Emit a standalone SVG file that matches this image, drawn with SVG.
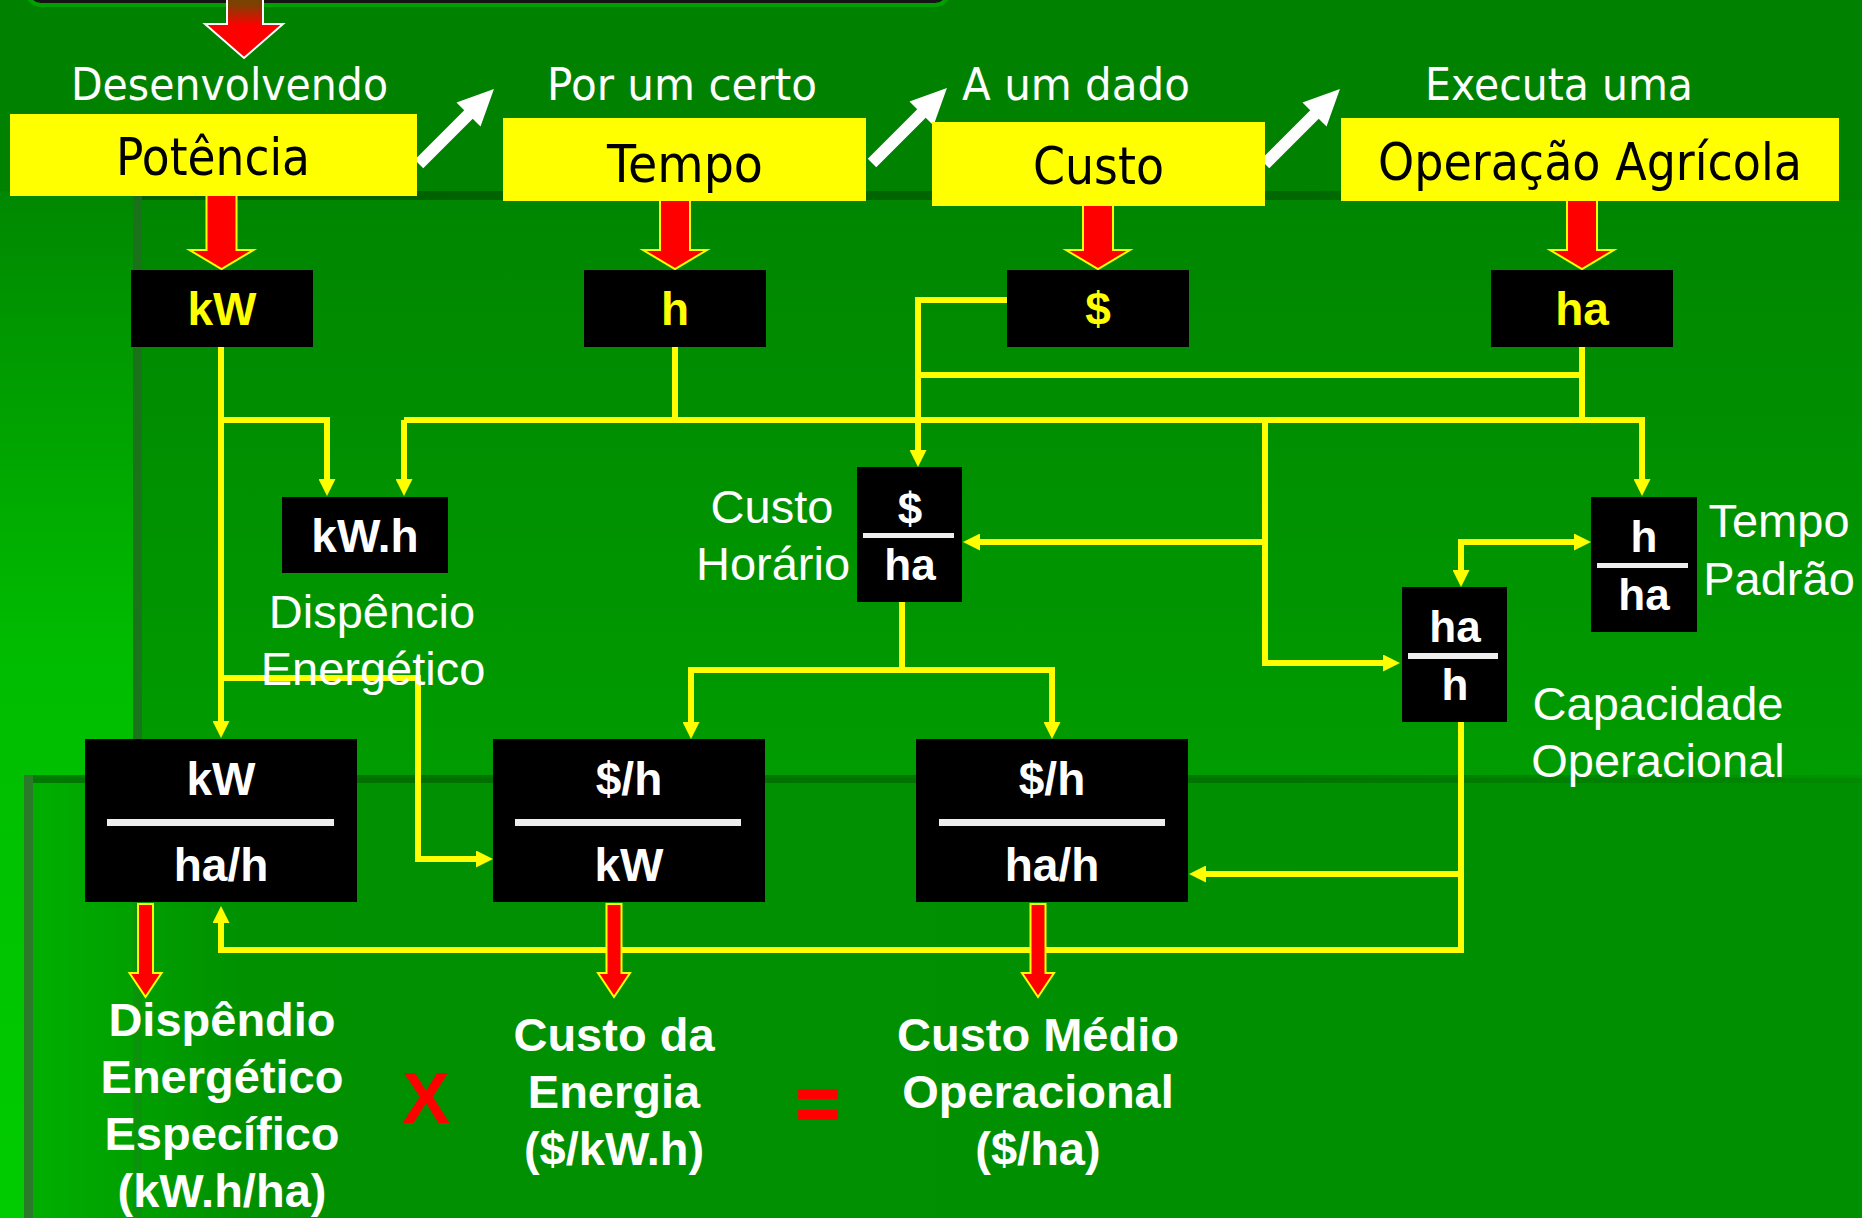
<svg xmlns="http://www.w3.org/2000/svg" width="1862" height="1218" viewBox="0 0 1862 1218">
<defs>
  <linearGradient id="gLeft" x1="0" y1="191" x2="0" y2="1218" gradientUnits="userSpaceOnUse">
    <stop offset="0" stop-color="#008800"/>
    <stop offset="0.45" stop-color="#00bc00"/>
    <stop offset="1" stop-color="#00cc00"/>
  </linearGradient>
  <linearGradient id="gPanelA" x1="0" y1="191" x2="0" y2="780" gradientUnits="userSpaceOnUse">
    <stop offset="0" stop-color="#008600"/>
    <stop offset="1" stop-color="#009c00"/>
  </linearGradient>
  <linearGradient id="gPanelB" x1="24" y1="0" x2="1862" y2="0" gradientUnits="userSpaceOnUse">
    <stop offset="0" stop-color="#00b000"/>
    <stop offset="0.06" stop-color="#00a000"/>
    <stop offset="0.12" stop-color="#009000"/>
    <stop offset="1" stop-color="#008f00"/>
  </linearGradient>
  <linearGradient id="gEdgeTop" x1="0" y1="0" x2="1862" y2="0" gradientUnits="userSpaceOnUse">
    <stop offset="0" stop-color="#005a00" stop-opacity="0.9"/>
    <stop offset="0.7" stop-color="#006000" stop-opacity="0.8"/>
    <stop offset="1" stop-color="#006000" stop-opacity="0.15"/>
  </linearGradient>
  <linearGradient id="gTopArrow" x1="0" y1="4" x2="0" y2="26" gradientUnits="userSpaceOnUse">
    <stop offset="0" stop-color="#7a4200"/>
    <stop offset="1" stop-color="#ff0000"/>
  </linearGradient>
  <marker id="ah" viewBox="0 0 17 17" refX="7" refY="8.5" markerWidth="17" markerHeight="17" markerUnits="userSpaceOnUse" orient="auto-start-reverse">
    <path d="M0,0 L17,8.5 L0,17 Z" fill="#ffff00"/>
  </marker>
  <path id="redBig" d="M-15,-82 H15 V-19 H32 L0,0 L-32,-19 H-15 Z"/>
  <path id="redSmall" d="M-7.5,-93 H7.5 V-24 H16 L0,0 L-16,-24 H-7.5 Z"/>
  <path id="whiteArrow" d="M0,-6 H70 V-17 L106,0 L70,17 V6 H0 Z"/>
</defs>
<style>
  .ybox { fill: #ffff00; }
  .bbox { fill: #000000; }
  .frac { fill: #eeeeee; }
  .tah { font-family: "DejaVu Sans", Verdana, sans-serif; }
  .lbl { font-family: "Liberation Sans", Arial, sans-serif; font-size: 47px; fill: #ffffff; text-anchor: middle; }
  .top { fill: #ffffff; font-size: 45px; }
  .ytxt { fill: #000000; font-size: 51px; }
  .unitY { font-family: "Liberation Sans", Arial, sans-serif; font-weight: bold; font-size: 46px; fill: #ffff00; text-anchor: middle; }
  .unitW { font-family: "Liberation Sans", Arial, sans-serif; font-weight: bold; font-size: 46px; fill: #ffffff; text-anchor: middle; }
  .res { font-family: "Liberation Sans", Arial, sans-serif; font-weight: bold; font-size: 47px; fill: #ffffff; text-anchor: middle; }
  .op { font-family: "Liberation Sans", Arial, sans-serif; font-weight: bold; fill: #ff0000; text-anchor: middle; }
  .conn path { fill: none; stroke: #ffff00; stroke-width: 6; stroke-linejoin: miter; }
  .arr { marker-end: url(#ah); }
  .red { fill: #ff0000; stroke: #ffff00; stroke-width: 2; }
  .white { fill: #ffffff; }
</style>

<!-- background -->
<g id="background">
  <rect x="0" y="0" width="1862" height="1218" fill="#008200"/>
  <rect x="0" y="191" width="142" height="1027" fill="url(#gLeft)"/>
  <rect x="133" y="191" width="1729" height="590" fill="url(#gPanelA)"/>
  <rect x="133" y="191" width="1729" height="9" fill="url(#gEdgeTop)"/>
  <rect x="133" y="191" width="9" height="1027" fill="#1f6e1f" opacity="0.85"/>
  <rect x="24" y="778" width="1838" height="440" fill="url(#gPanelB)"/>
  <rect x="24" y="775" width="1838" height="8" fill="url(#gEdgeTop)" opacity="0.7"/>
  <rect x="24" y="775" width="9" height="443" fill="#2a7a2a"/>
  <rect x="133" y="783" width="9" height="435" fill="#1f7a1f" opacity="0.35"/>
  <rect x="27" y="-30" width="922" height="35" rx="14" fill="#141414" stroke="#00a000" stroke-width="4"/>
</g>

<!-- top incoming arrow -->
<path id="arrow-top" d="M227,-4 H263 V24 H283 L244,58 L205,24 H227 Z" fill="url(#gTopArrow)" stroke="#ffffff" stroke-width="2"/>

<!-- red arrows from yellow boxes -->
<g id="red-arrows-top" class="red">
  <use href="#redBig" x="221.5" y="269"/>
  <use href="#redBig" x="675" y="269"/>
  <use href="#redBig" x="1098" y="269"/>
  <use href="#redBig" x="1582" y="269"/>
</g>

<!-- white diagonal arrows -->
<g id="white-arrows" class="white">
  <use href="#whiteArrow" transform="translate(419,164) rotate(-45)"/>
  <use href="#whiteArrow" transform="translate(872,163) rotate(-45)"/>
  <use href="#whiteArrow" transform="translate(1265,164) rotate(-45)"/>
</g>

<!-- top labels -->
<g id="top-labels" class="tah top">
  <text x="71" y="100" textLength="317" lengthAdjust="spacingAndGlyphs">Desenvolvendo</text>
  <text x="547" y="100" textLength="270" lengthAdjust="spacingAndGlyphs">Por um certo</text>
  <text x="962" y="100" textLength="228" lengthAdjust="spacingAndGlyphs">A um dado</text>
  <text x="1425" y="100" textLength="268" lengthAdjust="spacingAndGlyphs">Executa uma</text>
</g>

<!-- yellow boxes -->
<g id="node-potencia">
  <rect class="ybox" x="10" y="114" width="407" height="82"/>
  <text class="tah ytxt" x="116" y="175" textLength="194" lengthAdjust="spacingAndGlyphs">Potência</text>
</g>
<g id="node-tempo">
  <rect class="ybox" x="503" y="118" width="363" height="83"/>
  <text class="tah ytxt" x="607" y="182" textLength="156" lengthAdjust="spacingAndGlyphs">Tempo</text>
</g>
<g id="node-custo">
  <rect class="ybox" x="932" y="122" width="333" height="84"/>
  <text class="tah ytxt" x="1033" y="184" textLength="131" lengthAdjust="spacingAndGlyphs">Custo</text>
</g>
<g id="node-operacao">
  <rect class="ybox" x="1341" y="118" width="498" height="83"/>
  <text class="tah ytxt" x="1378" y="180" textLength="424" lengthAdjust="spacingAndGlyphs">Operação Agrícola</text>
</g>

<!-- connectors -->
<g id="connectors" class="conn">
  <path class="arr" d="M221,347 V728"/>
  <path class="arr" d="M221,420 H327 V486"/>
  <path d="M675,347 V420"/>
  <path class="arr" d="M404,420 V486"/>
  <path class="arr" d="M404,420 H1642 V486"/>
  <path class="arr" d="M1007,300 H918 V457"/>
  <path d="M918,375 H1582"/>
  <path d="M1582,347 V420"/>
  <path class="arr" d="M1265,420 V663 H1390"/>
  <path class="arr" d="M1265,542 H973"/>
  <path class="arr" d="M1461,577 V542 H1581" marker-start="url(#ah)"/>
  <path d="M902,602 V670"/>
  <path class="arr" d="M691,729 V670 H1052 V729" marker-start="url(#ah)"/>
  <path class="arr" d="M221,678 H418 V859 H483"/>
  <path class="arr" d="M1461,722 V950 H221 V916"/>
  <path class="arr" d="M1461,874 H1199"/>
</g>

<!-- black unit boxes, top row -->
<g id="node-kw">
  <rect class="bbox" x="131" y="270" width="182" height="77"/>
  <text class="unitY" x="222" y="325">kW</text>
</g>
<g id="node-h">
  <rect class="bbox" x="584" y="270" width="182" height="77"/>
  <text class="unitY" x="675" y="325">h</text>
</g>
<g id="node-dollar">
  <rect class="bbox" x="1007" y="270" width="182" height="77"/>
  <text class="unitY" x="1098" y="325">$</text>
</g>
<g id="node-ha">
  <rect class="bbox" x="1491" y="270" width="182" height="77"/>
  <text class="unitY" x="1582" y="325">ha</text>
</g>

<!-- middle row -->
<g id="node-kwh">
  <rect class="bbox" x="282" y="497" width="166" height="76"/>
  <text class="unitW" x="365" y="552">kW.h</text>
</g>
<g id="node-custo-horario">
  <rect class="bbox" x="857" y="467" width="105" height="135"/>
  <rect class="frac" x="863" y="533" width="91" height="5"/>
  <text class="unitW" x="910" y="524" style="font-size:44px">$</text>
  <text class="unitW" x="910" y="580" style="font-size:44px">ha</text>
</g>
<g id="node-tempo-padrao">
  <rect class="bbox" x="1591" y="497" width="106" height="135"/>
  <rect class="frac" x="1597" y="563" width="91" height="5"/>
  <text class="unitW" x="1644" y="552" style="font-size:44px">h</text>
  <text class="unitW" x="1644" y="610" style="font-size:44px">ha</text>
</g>
<g id="node-capacidade">
  <rect class="bbox" x="1402" y="587" width="105" height="135"/>
  <rect class="frac" x="1408" y="653" width="90" height="6"/>
  <text class="unitW" x="1455" y="642" style="font-size:44px">ha</text>
  <text class="unitW" x="1455" y="700" style="font-size:44px">h</text>
</g>

<!-- bottom row -->
<g id="node-kw-hah">
  <rect class="bbox" x="85" y="739" width="272" height="163"/>
  <rect class="frac" x="107" y="819" width="227" height="7"/>
  <text class="unitW" x="221" y="795">kW</text>
  <text class="unitW" x="221" y="881">ha/h</text>
</g>
<g id="node-dh-kw">
  <rect class="bbox" x="493" y="739" width="272" height="163"/>
  <rect class="frac" x="515" y="819" width="226" height="7"/>
  <text class="unitW" x="629" y="795">$/h</text>
  <text class="unitW" x="629" y="881">kW</text>
</g>
<g id="node-dh-hah">
  <rect class="bbox" x="916" y="739" width="272" height="163"/>
  <rect class="frac" x="939" y="819" width="226" height="7"/>
  <text class="unitW" x="1052" y="795">$/h</text>
  <text class="unitW" x="1052" y="881">ha/h</text>
</g>

<!-- side labels -->
<g id="labels" class="lbl">
  <text x="772" y="523">Custo</text>
  <text x="773" y="580">Horário</text>
  <text x="372" y="628">Dispêncio</text>
  <text x="373" y="685">Energético</text>
  <text x="1779" y="537">Tempo</text>
  <text x="1779" y="595">Padrão</text>
  <text x="1658" y="720">Capacidade</text>
  <text x="1658" y="777">Operacional</text>
</g>

<!-- red arrows to results -->
<g id="red-arrows-bottom" class="red">
  <use href="#redSmall" x="145.5" y="997"/>
  <use href="#redSmall" x="614" y="997"/>
  <use href="#redSmall" x="1038" y="997"/>
</g>

<!-- results -->
<g id="result-dispendio" class="res">
  <text x="222" y="1036">Dispêndio</text>
  <text x="222" y="1093">Energético</text>
  <text x="222" y="1150">Específico</text>
  <text x="222" y="1207">(kW.h/ha)</text>
</g>
<g id="result-custo-energia" class="res">
  <text x="614" y="1051">Custo da</text>
  <text x="614" y="1108">Energia</text>
  <text x="614" y="1165">($/kW.h)</text>
</g>
<g id="result-custo-medio" class="res">
  <text x="1038" y="1051">Custo Médio</text>
  <text x="1038" y="1108">Operacional</text>
  <text x="1038" y="1165">($/ha)</text>
</g>
<text class="op" x="426" y="1123" style="font-size:72px">X</text>
<text class="op" x="818" y="1130" style="font-size:76px" stroke="#ff0000" stroke-width="1.5">=</text>
</svg>
